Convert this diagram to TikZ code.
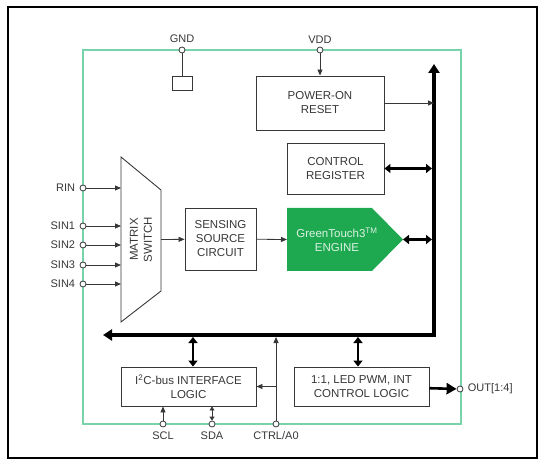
\documentclass[tikz,border=0pt]{standalone}
\usepackage{fontspec}
\setmainfont{Liberation Sans}
\usetikzlibrary{arrows.meta,positioning,calc}

\definecolor{frameGreen}{RGB}{120,210,170}
\definecolor{engineGreen}{RGB}{30,168,80}
\definecolor{lineGray}{RGB}{55,55,55}

\tikzset{
  blk/.style={draw=lineGray, line width=0.9pt, rectangle, align=center,
    font=\fontsize{11.5}{14}\selectfont, text=lineGray},
  pin/.style={draw=lineGray, circle, fill=white, inner sep=0pt,
    minimum size=6pt, line width=0.8pt},
  pinlabel/.style={font=\fontsize{11}{13}\selectfont, text=lineGray},
  sig/.style={draw=lineGray, line width=0.8pt, -{Triangle[length=6pt,width=5pt]}},
  bus/.style={line width=4pt, -{Triangle[length=9pt,width=11pt]}},
  dbl/.style={line width=2.6pt, {Triangle[length=6pt,width=9pt]}-{Triangle[length=6pt,width=9pt]}},
}

\begin{document}
\begin{tikzpicture}[x=1pt, y=-1pt]
  \useasboundingbox (0,0) rectangle (546,470);
  \draw[line width=1.2pt] (8,7) rectangle (537,458);
  \draw[frameGreen, line width=1.2pt] (83,50) rectangle (461,424);

  % blocks
  \node[blk, minimum width=128pt, minimum height=54pt] (pwr) at (320,103) {POWER-ON\\RESET};
  \node[blk, minimum width=20pt, minimum height=14pt] (gndbox) at (182,83) {};
  \node[blk, minimum width=97pt, minimum height=51pt] (ctrl) at (335.5,168.5) {CONTROL\\REGISTER};
  \node[blk, minimum width=71pt, minimum height=62pt] (sense) at (220.5,239) {SENSING\\SOURCE\\CIRCUIT};
  \fill[engineGreen] (287,208) -- (372,208) -- (403,239.5) -- (372,271) -- (287,271) -- cycle;
  \coordinate (engW) at (287,239.5);
  \coordinate (engE) at (403,239.5);
  \node[blk, draw=none, text=white!85!engineGreen] (engine) at (337,239.5)
    {GreenTouch3\textsuperscript{TM}\\ENGINE};
  \node[blk, minimum width=135pt, minimum height=39pt] (i2c) at (188.5,386.5) {I\textsuperscript{2}C-bus INTERFACE\\LOGIC};
  \node[blk, minimum width=135pt, minimum height=39pt] (led) at (361.5,386.5) {1:1, LED PWM, INT\\CONTROL LOGIC};

  % matrix switch
  \draw[lineGray, line width=0.9pt] (121,157) -- (161,190) -- (161,291) -- (121,322) -- cycle;
  \node[blk, draw=none, rotate=90] (mux) at (141,239.5) {MATRIX\\SWITCH};

  % pins
  \foreach \nm/\yy/\txt in {rin/188/RIN, sina/226/SIN1, sinb/245/SIN2, sinc/265/SIN3, sind/284/SIN4} {
    \node[pin] (\nm) at (83,\yy) {};
    \node[pinlabel, left=1pt of \nm] (\nm lbl) {\txt};
    \draw[sig] (\nm) -- (121,\yy);
  }
  \node[pin] (gnd) at (182,50) {};
  \node[pinlabel, above=0pt of gnd] (gndlbl) {GND};
  \node[pin] (vdd) at (320,50) {};
  \node[pinlabel, above=0pt of vdd] (vddlbl) {VDD};
  \node[pin] (scl) at (163,424) {};
  \node[pinlabel, below=1pt of scl] (scllbl) {SCL};
  \node[pin] (sda) at (212,424) {};
  \node[pinlabel, below=1pt of sda] (sdalbl) {SDA};
  \node[pin] (ctrla) at (276,424) {};
  \node[pinlabel, below=1pt of ctrla] (ctrlalbl) {CTRL/A0};
  \node[pin] (out) at (460,389) {};
  \node[pinlabel, right=1pt of out] (outlbl) {OUT[1:4]};

  % buses
  \coordinate (busNE) at (434,64);
  \coordinate (busSE) at (434,335);
  \coordinate (busW) at (103,335);
  \draw[bus] ($(busSE)+(0,2)$) -- (busNE);
  \draw[bus] ($(busSE)+(2,0)$) -- (busW);

  % connections
  \draw[lineGray, line width=0.9pt] (gnd) -- (gndbox);
  \draw[sig] (vdd) -- (pwr);
  \draw[sig] (pwr) -- (pwr -| busNE);
  \draw[dbl] (ctrl) -- ($(ctrl -| busNE)+(-2,0)$);
  \draw[dbl] (engE) -- ($(engE -| busNE)+(-2,0)$);
  \draw[sig] (161,239.5) -- (sense);
  \draw[sig] (sense) -- (engW);
  \draw[dbl] ($(i2c.north)+(4.5,0)$) -- ($(i2c.north |- busW)+(4.5,2)$);
  \draw[dbl] ($(led.north)+(-3.5,0)$) -- ($(led.north |- busW)+(-3.5,2)$);
  \draw[sig] (ctrla) -- ($(ctrla |- busW)+(0,2)$);
  \draw[sig] (ctrla |- i2c.east) -- (i2c.east);
  \draw[sig] (scl) -- (scl |- i2c.south);
  \draw[sig, {Triangle[length=4pt,width=5pt]}-{Triangle[length=4pt,width=5pt]}] (sda) -- (sda |- i2c.south);
  \draw[line width=2.6pt, -{Triangle[length=10pt,width=11pt]}] (led) -- (out);
\end{tikzpicture}
\end{document}
